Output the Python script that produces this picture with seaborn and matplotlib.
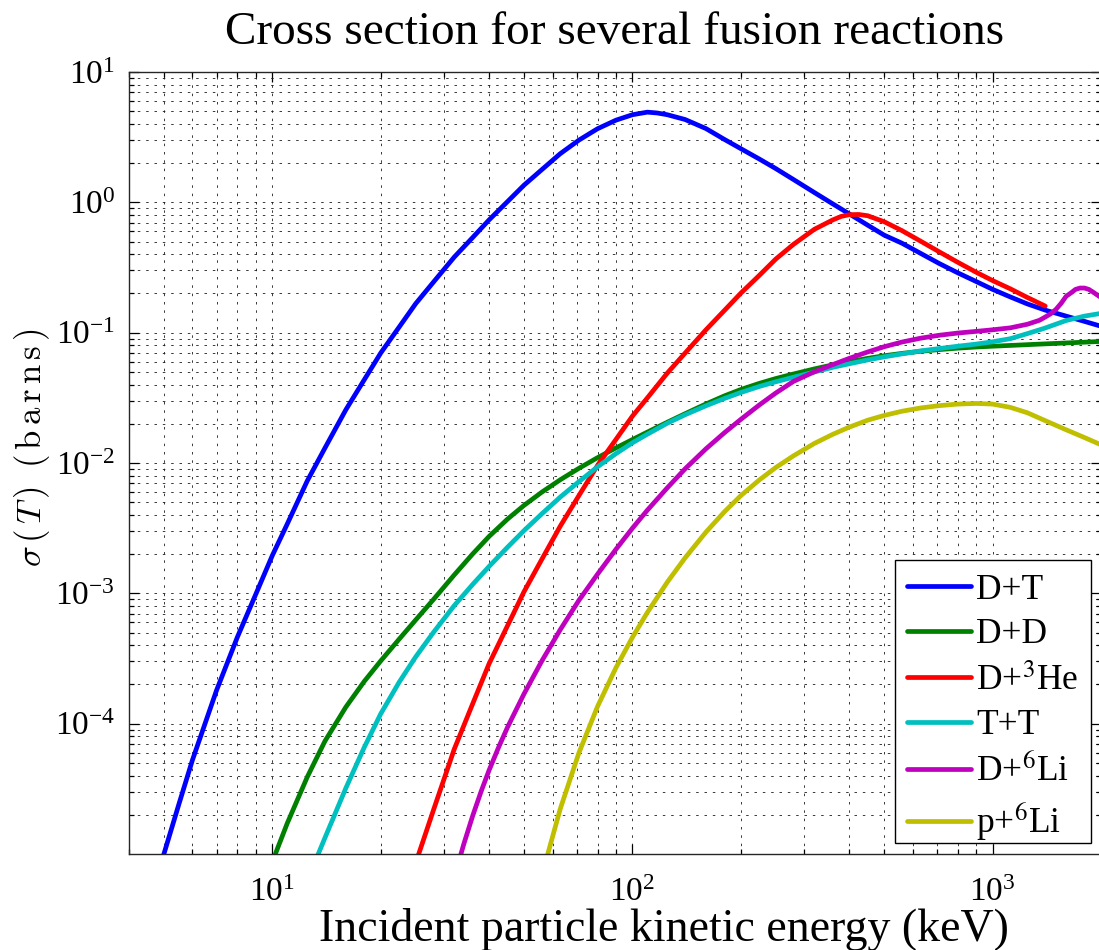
import numpy as np
import pandas as pd
import matplotlib
matplotlib.use("Agg")
import matplotlib.pyplot as plt
from matplotlib.patches import Rectangle
import seaborn as sns
from matplotlib.ticker import LogLocator, FixedLocator, LogFormatterSciNotation, NullFormatter

# ---- data (incident energy in keV, cross section in barns) ----
E_DT = [4.6, 5, 5.5, 6, 7, 8, 9, 10, 11, 12.5, 14, 16, 18, 20, 22.5, 25, 28, 32, 36, 40, 45, 50, 56,
        63, 71, 80, 90, 100, 110, 117, 125, 140, 160, 180, 200, 225, 250, 280, 320, 360, 400, 450,
        500, 560, 630, 710, 800, 900, 1000, 1120, 1250, 1400, 1600, 1800, 2000]
S_DT = [4.5e-6, 1.0e-5, 2.4e-5, 5.25e-5, 1.8e-4, 4.62e-4, 9.86e-4, 1.95e-3, 3.40e-3, 7.28e-3,
        0.01303, 0.0256, 0.0435, 0.0698, 0.1104, 0.1667, 0.2438, 0.380, 0.537, 0.734, 1.014, 1.355,
        1.78, 2.36, 3.0, 3.67, 4.27, 4.70, 4.92, 4.85, 4.70, 4.32, 3.68, 3.04, 2.58, 2.15, 1.815,
        1.496, 1.189, 0.973, 0.815, 0.668, 0.560, 0.486, 0.407, 0.340, 0.288, 0.247, 0.215, 0.188,
        0.166, 0.149, 0.134, 0.122, 0.112]

E_DD = [10, 11, 12.5, 14, 16, 18, 20, 22.5, 25, 28, 32, 36, 40, 45, 50, 56, 63, 71, 80, 90, 100, 110,
        125, 140, 160, 180, 200, 225, 250, 280, 320, 360, 400, 450, 500, 560, 630, 710, 800, 900,
        1000, 1120, 1250, 1400, 1600, 1800, 2000]
S_DD = [8.7e-6, 1.718e-5, 3.89e-5, 7.345e-5, 1.34e-4, 2.11e-4, 3.03e-4, 4.45e-4, 6.24e-4, 8.95e-4,
        1.384e-3, 2.005e-3, 2.735e-3, 3.715e-3, 4.73e-3, 5.97e-3, 7.43e-3, 9.10e-3, 0.01099,
        0.01306, 0.01514, 0.01726, 0.02056, 0.02388, 0.02838, 0.03273, 0.03664, 0.04083, 0.04446,
        0.04819, 0.05272, 0.05662, 0.05998, 0.06353, 0.06653, 0.06934, 0.07194, 0.07413, 0.07603,
        0.07762, 0.07870, 0.07980, 0.08091, 0.08204, 0.08337, 0.08453, 0.08570]

E_DHe3 = [25, 28, 32, 36, 40, 45, 50, 56, 63, 71, 80, 90, 100, 110, 125, 140, 160, 180, 200, 225, 250,
          280, 320, 360, 380, 400, 425, 450, 500, 560, 630, 710, 800, 900, 1000, 1120, 1250, 1400]
S_DHe3 = [8.5e-6, 2.16e-5, 6.37e-5, 1.42e-4, 2.89e-4, 5.65e-4, 1.03e-3, 1.82e-3, 3.27e-3, 5.62e-3,
          9.59e-3, 0.01517, 0.0229, 0.0316, 0.049, 0.0697, 0.1052, 0.148, 0.201, 0.275, 0.367,
          0.476, 0.621, 0.733, 0.78, 0.804, 0.807, 0.789, 0.71, 0.607, 0.505, 0.418, 0.347, 0.291,
          0.251, 0.217, 0.186, 0.160]

E_TT = [13, 14, 16, 18, 20, 22.5, 25, 28, 32, 36, 40, 45, 50, 56, 63, 71, 80, 90, 100, 110, 125, 140,
        160, 180, 200, 225, 250, 280, 320, 360, 400, 450, 500, 560, 630, 710, 800, 900, 1000, 1120,
        1250, 1400, 1600, 1800, 2000]
S_TT = [8.1e-6, 1.33e-5, 3.2e-5, 6.58e-5, 1.19e-4, 2.08e-4, 3.25e-4, 5.0e-4, 8.05e-4, 1.17e-3,
        1.61e-3, 2.26e-3, 3.03e-3, 4.07e-3, 5.47e-3, 7.19e-3, 9.35e-3, 0.0118, 0.01429, 0.01663,
        0.0202, 0.02344, 0.02748, 0.03126, 0.03475, 0.03864, 0.04198, 0.0455, 0.0499, 0.0542,
        0.0577, 0.0618, 0.0652, 0.0687, 0.0724, 0.0755, 0.0787, 0.0817, 0.0851, 0.0899, 0.0984,
        0.1086, 0.1239, 0.134, 0.1406]

E_DLi6 = [32, 34, 36, 38, 40, 42.5, 45, 50, 56, 63, 71, 80, 90, 100, 110, 125, 140, 160, 180, 200,
          225, 250, 280, 320, 360, 400, 450, 500, 560, 630, 710, 800, 900, 1000, 1120, 1250, 1350,
          1400, 1450, 1500, 1550, 1600, 1650, 1700, 1750, 1800, 1850, 1900, 1950, 2000]
S_DLi6 = [6.6e-6, 1.186e-5, 1.96e-5, 3.02e-5, 4.40e-5, 6.59e-5, 9.4e-5, 1.694e-4, 3.02e-4, 5.25e-4,
          8.83e-4, 1.403e-3, 2.178e-3, 3.162e-3, 4.345e-3, 6.457e-3, 9.02e-3, 0.01285, 0.01706,
          0.02163, 0.02786, 0.03443, 0.04227, 0.0501, 0.0569, 0.0635, 0.0711, 0.0780, 0.0847,
          0.0906, 0.0955, 0.0993, 0.1023, 0.1052, 0.1089, 0.1161, 0.1245, 0.1318, 0.1396, 0.151,
          0.168, 0.190, 0.2018, 0.215, 0.220, 0.220, 0.2148, 0.205, 0.195, 0.186]

E_pLi6 = [56, 63, 71, 80, 90, 100, 110, 125, 140, 160, 180, 200, 225, 250, 280, 320, 360, 400, 450,
          500, 560, 630, 710, 800, 900, 1000, 1120, 1250, 1400, 1600, 1800, 2000]
S_pLi6 = [6.8e-6, 2.21e-5, 5.96e-5, 1.355e-4, 2.69e-4, 4.6e-4, 7.13e-4, 1.22e-3, 1.87e-3, 2.95e-3,
          4.22e-3, 5.62e-3, 7.41e-3, 9.23e-3, 0.01135, 0.01413, 0.0166, 0.01884, 0.0213, 0.02317,
          0.02495, 0.02642, 0.02754, 0.02831, 0.02864, 0.02831, 0.02673, 0.02427, 0.02113, 0.01799,
          0.01567, 0.0138]

REACTIONS = ['D+T', 'D+D', 'D+$^{3}$He', 'T+T', 'D+$^{6}$Li', 'p+$^{6}$Li']
COLORS = ['#0000ff', '#008000', '#ff0000', '#00bfbf', '#bf00bf', '#bfbf00']

X_TICKS = [10, 100, 1000]
Y_TICKS = [1e-4, 1e-3, 1e-2, 1e-1, 1e0, 1e1]

TITLE = 'Cross section for several fusion reactions'
XLABEL = 'Incident particle kinetic energy (keV)'
YLABEL = r'$\sigma\,(\,T\,)\;\;(\,\mathrm{b\,a\,r\,n\,s}\,)$'

# ---- build long-form table ----
series = [(E_DT, S_DT), (E_DD, S_DD), (E_DHe3, S_DHe3), (E_TT, S_TT), (E_DLi6, S_DLi6), (E_pLi6, S_pLi6)]
df = pd.concat([pd.DataFrame({'E': e, 'sigma': s, 'reaction': n})
                for (e, s), n in zip(series, REACTIONS)], ignore_index=True)

sns.set_style("ticks")
plt.rcParams.update({
    'font.family': ['Liberation Serif', 'DejaVu Serif'],
    'mathtext.fontset': 'stix',
    'axes.linewidth': 1.0,
    'text.color': 'black',
    'axes.labelcolor': 'black',
    'xtick.color': 'black',
    'ytick.color': 'black',
    'axes.edgecolor': '0.15',
})

fig = plt.figure(figsize=(10.99, 9.5), dpi=100)
ax = fig.add_axes([129 / 1099, 96 / 950, 972 / 1099, 782 / 950])
ax.set_xscale('log')
ax.set_yscale('log')

sns.lineplot(data=df, x='E', y='sigma', hue='reaction', hue_order=REACTIONS,
             palette=dict(zip(REACTIONS, COLORS)), estimator=None, sort=False,
             linewidth=3.4, ax=ax, legend=True)

ax.set_xlim(4, 2000)
ax.set_ylim(1e-5, 10)

ax.xaxis.set_major_locator(FixedLocator(X_TICKS))
ax.xaxis.set_major_formatter(LogFormatterSciNotation())
ax.xaxis.set_minor_locator(LogLocator(base=10, subs=np.arange(2, 10), numticks=50))
ax.xaxis.set_minor_formatter(NullFormatter())
ax.yaxis.set_major_locator(FixedLocator(Y_TICKS))
ax.yaxis.set_major_formatter(LogFormatterSciNotation())
ax.yaxis.set_minor_locator(LogLocator(base=10, subs=np.arange(2, 10), numticks=50))
ax.yaxis.set_minor_formatter(NullFormatter())

ax.grid(True, which='both', color='0.1', linestyle=(0, (3, 7)), linewidth=0.6)
ax.set_axisbelow(True)
ax.tick_params(which='both', direction='in', top=True, right=True, width=0.9)
ax.tick_params(which='major', length=7, labelsize=24)
ax.tick_params(which='minor', length=3.5)
ax.tick_params(axis='y', which='major', pad=10)
ax.tick_params(axis='x', which='major', pad=17)

ax.set_title(TITLE, fontsize=34, pad=20)
ax.set_xlabel(XLABEL, fontsize=33, labelpad=0, x=0.5504)
ax.set_ylabel(YLABEL, fontsize=25, math_fontfamily='cm')
ax.yaxis.set_label_coords(-0.079, 0.519)

# legend: white box with black edge, entries placed inside it
box = Rectangle((0.788, 0.0141), 0.2017, 0.3619, transform=ax.transAxes,
                facecolor='white', edgecolor='black', linewidth=1.0, zorder=4.5, clip_on=False)
ax.add_patch(box)

handles, labels = ax.get_legend_handles_labels()
leg = ax.legend(handles, labels, loc='center left', bbox_to_anchor=(0.8004, 0.1854),
                borderaxespad=0, fontsize=25.5, frameon=False, handlelength=1.8,
                handletextpad=0.15, labelspacing=0.33, borderpad=0.0)
leg.set_zorder(5)
for ln in leg.get_lines():
    ln.set_linewidth(3.4)

fig.savefig('out.png', dpi=100)
